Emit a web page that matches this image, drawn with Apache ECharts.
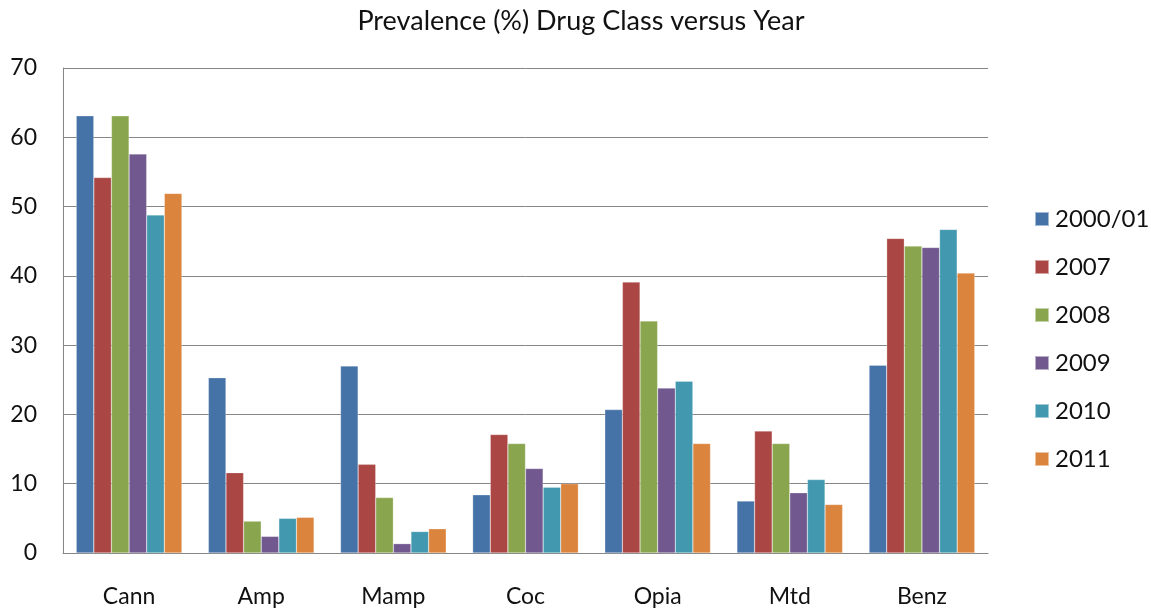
<!DOCTYPE html>
<html>
<head>
<meta charset="utf-8">
<script src="https://cdn.jsdelivr.net/npm/echarts@6/dist/echarts.min.js"></script>
<style>
  html, body { margin: 0; padding: 0; background: #fff; }
  #chart { width: 1151px; height: 613px; }
</style>
</head>
<body>
<div id="chart"></div>
<script>
// Drug classes along the x axis
const drugClasses = ['Cann', 'Amp', 'Mamp', 'Coc', 'Opia', 'Mtd', 'Benz'];

// Survey years (one series each)
const years = ['2000/01', '2007', '2008', '2009', '2010', '2011'];

// Prevalence (%) per year, in drugClasses order
const prev2000 = [63.1, 25.3, 27.0, 8.4, 20.7, 7.5, 27.1];
const prev2007 = [54.2, 11.6, 12.8, 17.1, 39.1, 17.6, 45.4];
const prev2008 = [63.1, 4.6, 8.0, 15.8, 33.5, 15.8, 44.3];
const prev2009 = [57.6, 2.4, 1.35, 12.2, 23.8, 8.7, 44.1];
const prev2010 = [48.8, 5.0, 3.1, 9.5, 24.8, 10.6, 46.7];
const prev2011 = [51.9, 5.15, 3.5, 10.0, 15.8, 7.0, 40.4];

const yearValues = [prev2000, prev2007, prev2008, prev2009, prev2010, prev2011];
const yearColors = ['#4572A7', '#AA4643', '#89A54E', '#71588F', '#4198AF', '#DB843D'];

const FONT = 'Lato, "Open Sans", sans-serif';

const chart = echarts.init(document.getElementById('chart'), null, { renderer: 'canvas' });

chart.setOption({
  animation: false,
  backgroundColor: '#ffffff',
  title: {
    text: 'Prevalence (%) Drug Class versus Year',
    left: 576,
    textAlign: 'center',
    top: 3,
    textStyle: { fontFamily: FONT, fontSize: 27, fontWeight: 'normal', color: '#111' }
  },
  legend: {
    orient: 'vertical',
    left: 1029,
    top: 202,
    itemWidth: 14,
    itemHeight: 14,
    itemGap: 24,
    icon: 'rect',
    textStyle: { fontFamily: FONT, fontSize: 24, color: '#111', padding: [0, 0, 0, 1] },
    data: years
  },
  grid: { left: 63, right: 163, top: 68, bottom: 60, containLabel: false },
  xAxis: {
    type: 'category',
    data: drugClasses,
    axisLine: { show: true, lineStyle: { color: '#868686', width: 1 } },
    axisTick: { show: false },
    axisLabel: { fontFamily: FONT, fontSize: 23, color: '#111', margin: 32 }
  },
  yAxis: {
    type: 'value',
    min: 0,
    max: 70,
    interval: 10,
    axisLine: { show: true, lineStyle: { color: '#868686', width: 1 } },
    axisTick: { show: false },
    splitLine: { show: true, lineStyle: { color: '#868686', width: 1 } },
    axisLabel: { fontFamily: FONT, fontSize: 23, color: '#111', margin: 26 }
  },
  series: years.map((name, i) => ({
    name: name,
    type: 'bar',
    data: yearValues[i],
    barGap: '0%',
    barCategoryGap: '20%',
    itemStyle: { color: yearColors[i], borderColor: 'rgba(255,255,255,0.5)', borderWidth: 0.5 }
  }))
});
</script>
</body>
</html>
